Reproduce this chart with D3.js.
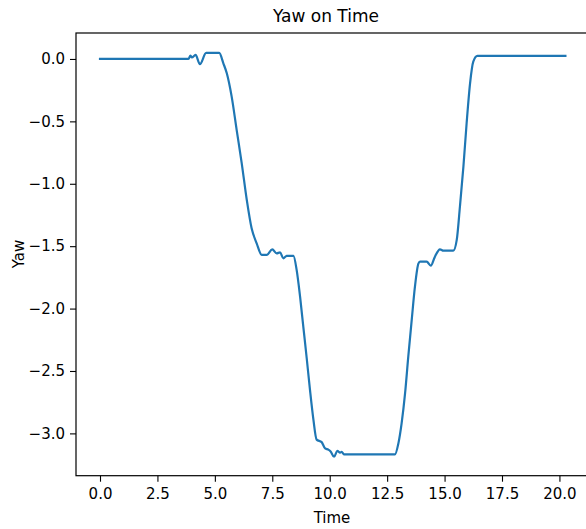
<!DOCTYPE html>
<html>
<head>
<meta charset="utf-8">
<script src="https://cdn.jsdelivr.net/npm/d3@7"></script>
<style>
  body { margin: 0; background: #fff; }
  svg { display: block; font-family: "DejaVu Sans", sans-serif; }
</style>
</head>
<body>
<svg width="586" height="529"></svg>
<script>
// values
const time = [0, 3.85, 3.94, 4.0, 4.16, 4.35, 4.62, 5.19, 5.37, 5.52, 5.73, 5.95, 6.17, 6.39, 6.60, 6.82,
  7.04, 7.26, 7.50, 7.69, 7.84, 7.98, 8.13, 8.42, 8.56, 8.71, 8.85, 9.00, 9.14, 9.29, 9.43, 9.65,
  9.80, 9.94, 10.04, 10.19, 10.33, 10.45, 10.52, 10.62, 12.84, 12.99, 13.13, 13.28, 13.42, 13.57,
  13.71, 13.86, 13.93, 14.22, 14.40, 14.58, 14.80, 14.95, 15.38, 15.53, 15.67, 15.82, 15.96, 16.11,
  16.25, 16.43, 20.26]
const yaw = [0, 0, 0.027, 0.012, 0.032, -0.042, 0.048, 0.048, -0.035, -0.115, -0.30, -0.57, -0.836, -1.13, -1.357, -1.477,
  -1.57, -1.57, -1.525, -1.557, -1.55, -1.597, -1.578, -1.578, -1.69, -1.905, -2.145, -2.40, -2.65, -2.89, -3.05, -3.07,
  -3.12, -3.13, -3.145, -3.187, -3.14, -3.155, -3.147, -3.168, -3.168, -3.08, -2.92, -2.68, -2.385, -2.09,
  -1.825, -1.64, -1.624, -1.624, -1.656, -1.584, -1.525, -1.536, -1.536, -1.45, -1.18, -0.863, -0.515, -0.195,
  -0.022, 0.024, 0.024]
const xTicks = [0, 2.5, 5, 7.5, 10, 12.5, 15, 17.5, 20]
const yTicks = [0, -0.5, -1, -1.5, -2, -2.5, -3]

const svg = d3.select('svg')
const data = time.map((t, i) => ({ t: t, v: yaw[i] }))

// plot area (right edge falls just outside the picture)
const plot = { left: 76, right: 588.6, top: 33, bottom: 475.7 }

const xScale = d3.scaleLinear().domain([-1.045, 21.27]).range([plot.left, plot.right])
const yScale = d3.scaleLinear().domain([-3.339, 0.208]).range([plot.bottom, plot.top])

const fmt = d3.format('.1f')

const xAxis = svg.append('g')
  .attr('transform', `translate(0,${plot.bottom})`)
  .call(d3.axisBottom(xScale).tickValues(xTicks).tickFormat(fmt).tickSize(6).tickPadding(7).tickSizeOuter(0))
const yAxis = svg.append('g')
  .attr('transform', `translate(${plot.left},0)`)
  .call(d3.axisLeft(yScale).tickValues(yTicks).tickFormat(fmt).tickSize(6).tickPadding(5).tickSizeOuter(0))

;[xAxis, yAxis].forEach(a => {
  a.select('.domain').remove()
  a.selectAll('text').attr('font-size', 15).attr('fill', '#000').attr('font-family', '"DejaVu Sans", sans-serif')
  a.selectAll('line').attr('stroke', '#000').attr('stroke-width', 1.1)
})

// the line
svg.append('path')
  .datum(data)
  .attr('fill', 'none')
  .attr('stroke', '#1f77b4')
  .attr('stroke-width', 2.2)
  .attr('stroke-linejoin', 'round')
  .attr('stroke-linecap', 'square')
  .attr('d', d3.line().x(d => xScale(d.t)).y(d => yScale(d.v)).curve(d3.curveMonotoneX))

// frame
svg.append('rect')
  .attr('x', plot.left).attr('y', plot.top)
  .attr('width', plot.right - plot.left).attr('height', plot.bottom - plot.top)
  .attr('fill', 'none').attr('stroke', '#000').attr('stroke-width', 1.2)

// texts
svg.append('text')
  .attr('x', 326).attr('y', 22)
  .attr('text-anchor', 'middle')
  .attr('font-size', 17)
  .text('Yaw on Time')

svg.append('text')
  .attr('x', 332).attr('y', 523)
  .attr('text-anchor', 'middle')
  .attr('font-size', 15)
  .text('Time')

svg.append('text')
  .attr('transform', `translate(24,254) rotate(-90)`)
  .attr('text-anchor', 'middle')
  .attr('font-size', 15)
  .text('Yaw')
</script>
</body>
</html>
